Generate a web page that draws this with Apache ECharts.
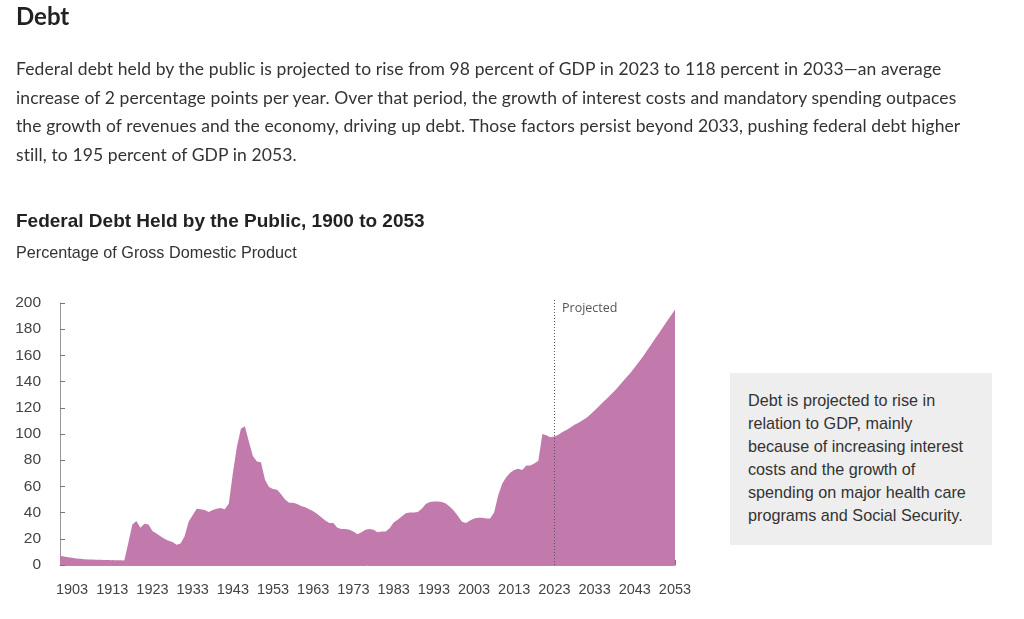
<!DOCTYPE html>
<html lang="en">
<head>
  <meta charset="UTF-8">
  <title>Debt</title>
  <script src="https://cdn.jsdelivr.net/npm/echarts@6/dist/echarts.min.js"></script>
  <style>
    body { margin: 0; background: #fff; }
    #page { position: relative; width: 1024px; height: 619px; overflow: hidden; }
    #chart { position: absolute; left: 0; top: 0; width: 1024px; height: 619px; }
    .h1 { position: absolute; left: 16px; top: 1px; font: bold 24px Lato, sans-serif; color: #222; }
    .lead { position: absolute; left: 16px; top: 55px; font: 17.5px Lato, sans-serif; color: #333; line-height: 28.7px; letter-spacing: 0.1px; }
    .ctitle { position: absolute; left: 16px; top: 210px; font: bold 19px "Liberation Sans", Arial, sans-serif; color: #222; }
    .csub { position: absolute; left: 16px; top: 243px; font: 16.2px "Liberation Sans", Arial, sans-serif; color: #333; }
    .note { position: absolute; left: 730px; top: 373px; width: 262px; height: 172px; background: #eeeeee;
            box-sizing: border-box; padding: 16px 6px 0 18px;
            font: 16.2px "Liberation Sans", Arial, sans-serif; color: #333; line-height: 23px; }
  </style>
</head>
<body>
<div id="page">
  <div id="chart"></div>
  <div class="h1">Debt</div>
  <div class="lead">Federal debt held by the public is projected to rise from 98 percent of GDP in 2023 to 118 percent in 2033—an average<br>increase of 2 percentage points per year. Over that period, the growth of interest costs and mandatory spending outpaces<br>the growth of revenues and the economy, driving up debt. Those factors persist beyond 2033, pushing federal debt higher<br>still, to 195 percent of GDP in 2053.</div>
  <div class="ctitle">Federal Debt Held by the Public, 1900 to 2053</div>
  <div class="csub">Percentage of Gross Domestic Product</div>
  <div class="note">Debt is projected to rise in<br>relation to GDP, mainly<br>because of increasing interest<br>costs and the growth of<br>spending on major health care<br>programs and Social Security.</div>
</div>

<script>
  // years shown on the axis
  var firstYear = 1900
  var lastYear = 2053
  var projStart = '2023'
  var tickYears = [1903, 1913, 1923, 1933, 1943, 1953, 1963, 1973, 1983, 1993, 2003, 2013, 2023, 2033, 2043, 2053]

  // actual debt held by the public, % of GDP, 1900-2023
  var actualDebt = [
    7, 6.5, 6, 5.5, 5, 4.7, 4.4, 4.2, 4.2, 4.1,          // 1900s
    4, 3.9, 3.8, 3.7, 3.7, 3.6, 3.5, 17, 31, 33.5,       // 1910s
    28.5, 31.5, 31, 26, 24, 22, 20, 18.5, 17.5, 15.5,    // 1920s
    16.5, 22, 33, 38, 43, 42.5, 42, 40.5, 42, 43,        // 1930s
    43.5, 42.5, 47, 70, 90, 104, 106, 94, 83, 79,        // 1940s
    78.5, 65, 59.5, 58, 57.5, 54, 50, 47.5, 47.5, 46.5,  // 1950s
    45, 44, 42.5, 41, 39, 36.5, 34, 32, 32, 28.5,        // 1960s
    27.5, 27.5, 27, 25.5, 23.5, 25, 27, 27.5, 27, 25,    // 1970s
    25.5, 25.5, 28, 32.5, 34.5, 37, 39.5, 40, 40, 40.5,  // 1980s
    43, 46.5, 48, 48.5, 48.5, 48, 47, 44.5, 41.5, 37.5,  // 1990s
    33, 32, 34, 35.5, 36, 36, 35.5, 35.5, 40, 53,        // 2000s
    62, 67, 70.5, 72.5, 73.5, 72.5, 76, 76, 77.5, 79.5,  // 2010s
    100, 99, 97.5, 98                                    // 2020-2023
  ]

  // projected, 2024-2053
  var projectedDebt = [
    99.5, 101.5, 103, 105, 107, 108.5, 110.5, 112.5, 115, 118,
    121, 124, 127, 130, 133, 136.5, 140, 143.5, 147, 151,
    155, 159, 163.5, 168, 172.5, 177, 181.5, 186, 190.5, 195
  ]

  var years = []
  for (var y = firstYear; y <= lastYear; y++) years.push(String(y))
  var debt = actualDebt.concat(projectedDebt)

  var isTick = function (idx) { return tickYears.indexOf(firstYear + idx) !== -1 }

  var mCharts = echarts.init(document.getElementById('chart'))
  var option = {
    animation: false,
    grid: { left: 60, right: 349, top: 303, bottom: 54 },
    xAxis: {
      type: 'category',
      data: years,
      boundaryGap: false,
      axisLine: { lineStyle: { color: '#999', width: 1 } },
      axisTick: { inside: true, length: 5, interval: isTick, lineStyle: { color: '#777' } },
      axisLabel: {
        interval: isTick, margin: 17, color: '#444',
        fontFamily: 'Liberation Sans', fontSize: 14.5, showMaxLabel: true
      }
    },
    yAxis: {
      type: 'value',
      min: 0, max: 200, interval: 20,
      splitLine: { show: false },
      axisLine: { show: true, lineStyle: { color: '#999', width: 1 } },
      axisTick: { show: true, inside: true, length: 5, lineStyle: { color: '#777' } },
      axisLabel: { margin: 19, color: '#444', fontFamily: 'Liberation Sans', fontSize: 15.5 }
    },
    series: [
      {
        type: 'line',
        data: debt,
        symbol: 'none',
        lineStyle: { width: 0 },
        areaStyle: { color: '#c27aac', opacity: 1 },
        markLine: {
          silent: true,
          symbol: 'none',
          label: { show: false },
          lineStyle: { type: [1, 2], color: '#555', width: 1 },
          data: [[{ xAxis: projStart, y: 300 }, { xAxis: projStart, yAxis: 0 }]]
        }
      }
    ],
    graphic: [
      {
        type: 'text', left: 562, top: 302,
        style: { text: 'Projected', fill: '#555', font: '12.5px "Open Sans", sans-serif' }
      }
    ]
  }
  mCharts.setOption(option)
</script>
</body>
</html>
